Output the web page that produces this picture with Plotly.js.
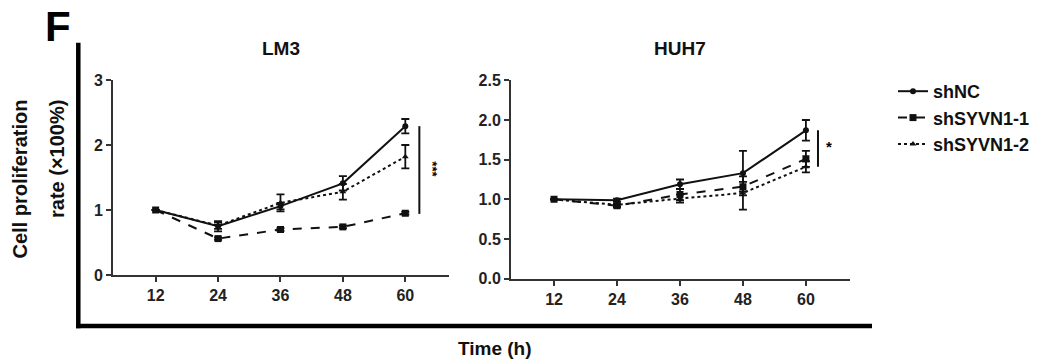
<!DOCTYPE html>
<html>
<head>
<meta charset="utf-8">
<script src="https://cdn.plot.ly/plotly-3.0.1.min.js"></script>
<style>html,body{margin:0;padding:0;background:#fff;}#chart{width:1045px;height:364px;}</style>
</head>
<body>
<div id="chart"></div>
<script>
// ---- data ----
const timeHours = [12, 24, 36, 48, 60];
const seriesNames = ["shNC", "shSYVN1-1", "shSYVN1-2"];
const panelTitles = ["LM3", "HUH7"];
const significance = ["***", "*"];

const lm3_shNC      = [1.00, 0.75, 1.06, 1.41, 2.29];
const lm3_shNC_err  = [0, 0.08, 0.05, 0.11, 0.11];
const lm3_sh1       = [1.00, 0.56, 0.70, 0.74, 0.95];
const lm3_sh1_err   = [0, 0.02, 0.02, 0.02, 0.02];
const lm3_sh2       = [1.00, 0.76, 1.11, 1.28, 1.82];
const lm3_sh2_err   = [0, 0.05, 0.13, 0.12, 0.18];

const huh7_shNC     = [1.00, 0.99, 1.19, 1.33, 1.87];
const huh7_shNC_err = [0, 0.02, 0.06, 0.28, 0.13];
const huh7_sh1      = [1.00, 0.92, 1.06, 1.16, 1.51];
const huh7_sh1_err  = [0, 0.02, 0.07, 0.06, 0.10];
const huh7_sh2      = [1.00, 0.93, 1.01, 1.08, 1.41];
const huh7_sh2_err  = [0, 0.02, 0.05, 0.21, 0.07];

const lm3YTicks  = [0, 1, 2, 3];
const huh7YTicks = [0, 0.5, 1.0, 1.5, 2.0, 2.5];

// ---- styling ----
const INK = '#111';
const FONT = 'Liberation Sans, Arial, Helvetica, sans-serif';
const styles = [
  {dash: 'solid', symbol: 'circle', size: 6},
  {dash: 'dash', symbol: 'square', size: 7},
  {dash: 'dot', symbol: 'triangle-up', size: 6}
];

function mk(xa, ya, vals, errs, i, showLeg) {
  return {
    type: 'scatter', mode: 'lines+markers',
    x: timeHours, y: vals, xaxis: xa, yaxis: ya,
    name: seriesNames[i], legendgroup: seriesNames[i], showlegend: showLeg,
    line: {color: INK, width: 2, dash: styles[i].dash},
    marker: {color: INK, symbol: styles[i].symbol, size: styles[i].size},
    error_y: {type: 'data', array: errs, visible: true, color: INK, thickness: 1.8, width: 4},
    hoverinfo: 'skip'
  };
}

const traces = [
  mk('x', 'y', lm3_shNC, lm3_shNC_err, 0, true),
  mk('x', 'y', lm3_sh1, lm3_sh1_err, 1, true),
  mk('x', 'y', lm3_sh2, lm3_sh2_err, 2, true),
  mk('x2', 'y2', huh7_shNC, huh7_shNC_err, 0, false),
  mk('x2', 'y2', huh7_sh1, huh7_sh1_err, 1, false),
  mk('x2', 'y2', huh7_sh2, huh7_sh2_err, 2, false)
];

const W = 1045, H = 364;
const px = v => v / W;
const py = v => (H - v) / H;

const tickFont = {family: FONT, size: 16, color: '#222', weight: 'bold'};
function xAxis(domain, anchor) {
  return {domain: domain, anchor: anchor, range: [3.8, 68.4], tickvals: timeHours,
    showline: true, linewidth: 2, linecolor: '#333', ticks: 'outside', ticklen: 5,
    tickwidth: 2, tickcolor: '#333', showgrid: false, zeroline: false, tickfont: tickFont, fixedrange: true};
}
function yAxis(domain, anchor, range, tv, fmt) {
  return {domain: domain, anchor: anchor, range: range, tickvals: tv, tickformat: fmt,
    showline: true, linewidth: 2, linecolor: '#333', ticks: 'outside', ticklen: 5,
    tickwidth: 2, tickcolor: '#333', showgrid: false, zeroline: false, tickfont: tickFont, fixedrange: true};
}

// significance bar extents derived from the 60 h values
const last = a => a[a.length - 1];
const lmTop = Math.max(last(lm3_shNC), last(lm3_sh1), last(lm3_sh2));
const lmBot = Math.min(last(lm3_shNC), last(lm3_sh1), last(lm3_sh2));
const huTop = Math.max(last(huh7_shNC), last(huh7_sh1), last(huh7_sh2));
const huBot = Math.min(last(huh7_shNC), last(huh7_sh1), last(huh7_sh2));

const shapes = [
  // L-shaped frame
  {type: 'line', xref: 'paper', yref: 'paper', x0: px(78.3), x1: px(78.3), y0: py(42.7), y1: py(328.3), line: {color: '#000', width: 4.5}},
  {type: 'line', xref: 'paper', yref: 'paper', x0: px(76), x1: px(872), y0: py(326), y1: py(326), line: {color: '#000', width: 4.5}},
  // significance bars
  {type: 'line', xref: 'x', yref: 'y', x0: 62.7, x1: 62.7, y0: lmBot - 0.01, y1: lmTop, line: {color: INK, width: 2}},
  {type: 'line', xref: 'x2', yref: 'y2', x0: 62.3, x1: 62.3, y0: huBot, y1: huTop, line: {color: INK, width: 2}}
];

function ann(o) { return Object.assign({xref: 'paper', yref: 'paper', xanchor: 'center', yanchor: 'middle', showarrow: false}, o); }

const annotations = [
  ann({text: 'F', x: px(58), y: py(27), font: {family: FONT, size: 42, color: '#000', weight: 'bold'}}),
  ann({text: panelTitles[0], x: px(281), y: py(49), font: {family: FONT, size: 19, color: '#111', weight: 'bold'}}),
  ann({text: panelTitles[1], x: px(680.5), y: py(49), font: {family: FONT, size: 19, color: '#111', weight: 'bold'}}),
  ann({text: 'Cell proliferation', x: px(19), y: py(98), yanchor: 'top', textangle: -90,
       font: {family: FONT, size: 20, color: '#111', weight: 'bold'}}),
  ann({text: 'rate (×100%)', x: px(57), y: py(98), yanchor: 'top', textangle: -90,
       font: {family: FONT, size: 20, color: '#111', weight: 'bold'}}),
  ann({text: 'Time (h)', x: px(495), y: py(348), font: {family: FONT, size: 19, color: '#111', weight: 'bold'}}),
  ann({text: significance[0], xref: 'x', yref: 'y', x: 65.2, y: (lmTop + lmBot) / 2, textangle: 90,
       font: {family: FONT, size: 13, color: '#000', weight: 'bold'}}),
  ann({text: significance[1], xref: 'x2', yref: 'y2', x: 64.4, y: (huTop + huBot) / 2 + 0.03,
       font: {family: FONT, size: 15, color: '#000', weight: 'bold'}})
];

const layout = {
  width: W, height: H,
  margin: {l: 0, r: 0, t: 0, b: 0},
  paper_bgcolor: '#fff', plot_bgcolor: '#fff',
  showlegend: true,
  legend: {x: px(893), xanchor: 'left', y: py(73), yanchor: 'top', itemwidth: 30,
    font: {family: FONT, size: 18, color: '#111', weight: 'bold'}, bgcolor: 'rgba(0,0,0,0)', tracegroupgap: 0},
  xaxis: xAxis([px(113), px(449)], 'y'),
  yaxis: yAxis([py(275), py(80)], 'x', [0, 3], lm3YTicks, 'd'),
  xaxis2: xAxis([px(511), px(850)], 'y2'),
  yaxis2: yAxis([py(278.7), py(80.3)], 'x2', [0, 2.5], huh7YTicks, '.1f'),
  shapes: shapes,
  annotations: annotations
};

Plotly.newPlot('chart', traces, layout, {staticPlot: true, displayModeBar: false});
</script>
</body>
</html>
